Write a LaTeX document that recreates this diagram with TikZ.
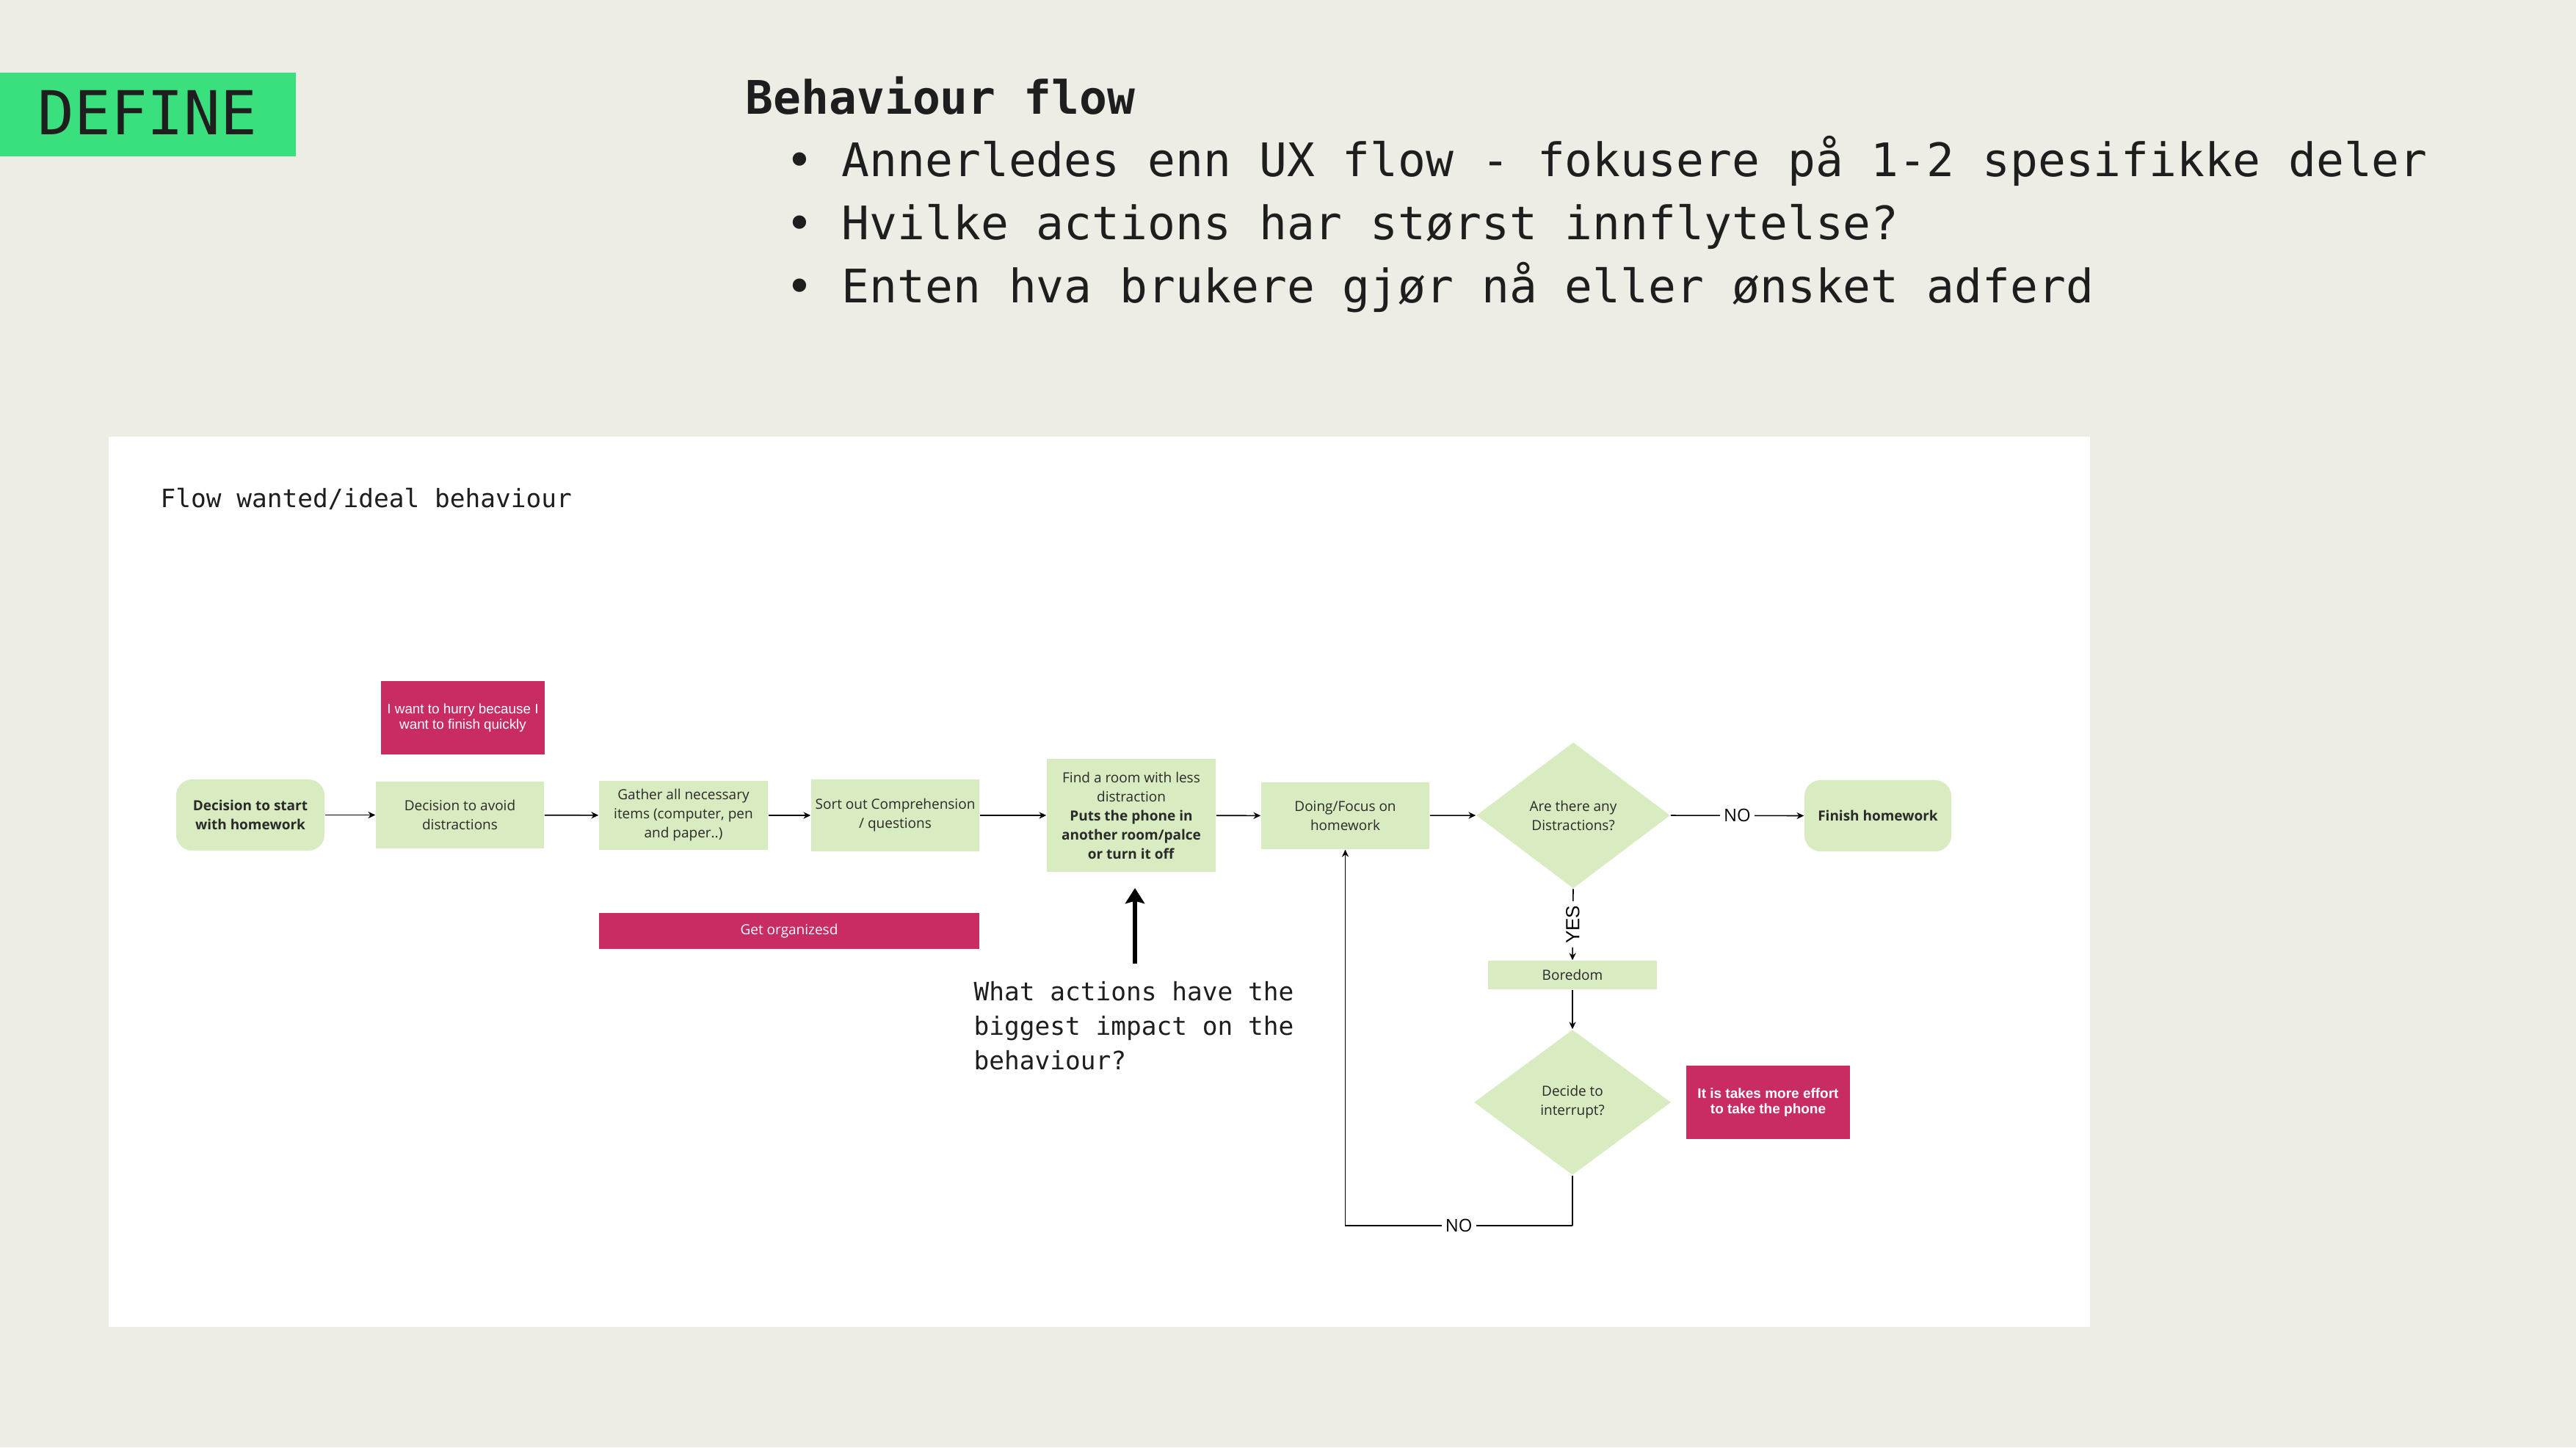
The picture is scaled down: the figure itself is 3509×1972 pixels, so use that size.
\documentclass[tikz,border=0pt]{standalone}
\usepackage{fontspec}
\setmainfont{Open Sans}
\newfontfamily\monof{DejaVu Sans Mono}
\newfontfamily\arialf{Liberation Sans}
\usetikzlibrary{shapes.geometric,arrows.meta}
\definecolor{bgc}{HTML}{EDECE5}
\definecolor{defgreen}{HTML}{3BE07E}
\definecolor{boxgreen}{HTML}{D9EBC0}
\definecolor{pinkc}{HTML}{C92C63}
\definecolor{txtc}{HTML}{2A2A2A}
\definecolor{monoc}{HTML}{1E1E1E}
\newcommand\myfs[2]{\fontsize{#1}{#2}\selectfont}
\tikzset{
  gbox/.style={fill=boxgreen, text=txtc, align=center, inner sep=0pt, font=\myfs{5.4pt}{7.4pt}},
  gboldbox/.style={gbox, font=\myfs{5.4pt}{7.4pt}\bfseries},
  pbox/.style={fill=pinkc, text=white, align=center, inner sep=0pt, font=\myfs{5.4pt}{7.4pt}},
  gdia/.style={diamond, fill=boxgreen, text=txtc, align=center, inner sep=0pt, font=\myfs{5.4pt}{7.4pt}},
  con/.style={draw=black, line width=0.45pt, -{Stealth[length=2.8pt,width=2.6pt]}},
  plain/.style={draw=black, line width=0.45pt},
  lab/.style={fill=white, inner sep=1.5pt, text=black, font=\myfs{6.8pt}{8pt}},
  monotxt/.style={text=monoc, inner sep=0pt},
  bigarrow/.style={draw=black, line width=1.7pt, -{Stealth[length=6pt,width=7.5pt,inset=1pt]}}
}
\begin{document}
\begin{tikzpicture}[x=0.01cm,y=-0.01cm]
% background
\fill[bgc] (0,0) rectangle (3509,1972);
% DEFINE tag
\fill[defgreen] (0,99) rectangle (403,213);
\node[monotxt, anchor=base, font=\monof\myfs{23.5pt}{26pt}] (define) at (201,183) {DEFINE};
% header text
\node[monotxt, anchor=base west, font=\monof\bfseries\myfs{17.9pt}{20pt}] (title) at (1015,155) {Behaviour flow};
\node[monotxt, anchor=base, font=\monof\myfs{17.9pt}{20pt}] (b1) at (1089,240) {•};
\node[monotxt, anchor=base, font=\monof\myfs{17.9pt}{20pt}] (b2) at (1089,326) {•};
\node[monotxt, anchor=base, font=\monof\myfs{17.9pt}{20pt}] (b3) at (1089,412) {•};
\node[monotxt, anchor=base west, font=\monof\myfs{17.9pt}{20pt}] (l1) at (1146,240) {Annerledes enn UX flow - fokusere på 1-2 spesifikke deler};
\node[monotxt, anchor=base west, font=\monof\myfs{17.9pt}{20pt}] (l2) at (1146,326) {Hvilke actions har størst innflytelse?};
\node[monotxt, anchor=base west, font=\monof\myfs{17.9pt}{20pt}] (l3) at (1146,412) {Enten hva brukere gjør nå eller ønsket adferd};
% white panel
\fill[white] (148,595) rectangle (2847,1808);
\node[monotxt, anchor=base west, font=\monof\myfs{9.8pt}{12pt}] (flowtitle) at (218,691) {Flow wanted/ideal behaviour};
% flow nodes
\node[gboldbox, rounded corners=0.22cm, minimum width=2.02cm, minimum height=0.97cm] (start) at (341,1110.5) {Decision to start\\with homework};
\node[gbox, minimum width=2.29cm, minimum height=0.91cm] (avoid) at (626.5,1110.5) {Decision to avoid\\distractions};
\node[pbox, minimum width=2.23cm, minimum height=1.00cm, font=\arialf\myfs{5.35pt}{6pt}] (hurry) at (630.5,978) {I want to hurry because I\\want to finish quickly};
\node[gbox, minimum width=2.30cm, minimum height=0.94cm] (gather) at (931,1111) {Gather all necessary\\items (computer, pen\\and paper..)};
\node[gbox, minimum width=2.29cm, minimum height=0.98cm] (sort) at (1219.5,1111) {Sort out Comprehension\\/ questions};
\node[pbox, minimum width=5.18cm, minimum height=0.49cm] (getorg) at (1075,1268.5) {Get organizesd};
\node[gbox, minimum width=2.30cm, minimum height=1.54cm] (find) at (1541,1111) {Find a room with less\\distraction\\\textbf{Puts the phone in}\\\textbf{another room/palce}\\\textbf{or turn it off}};
\node[gbox, minimum width=2.29cm, minimum height=0.91cm] (doing) at (1832.5,1111.5) {Doing/Focus on\\homework};
\node[gdia, minimum width=2.64cm, minimum height=1.99cm] (dist) at (2143,1111) {Are there any\\Distractions?};
\node[gboldbox, rounded corners=0.22cm, minimum width=2.00cm, minimum height=0.97cm] (finish) at (2558,1111.5) {Finish homework};
\node[gbox, minimum width=2.30cm, minimum height=0.39cm] (boredom) at (2142,1328.5) {Boredom};
\node[gdia, minimum width=2.68cm, minimum height=1.98cm] (intr) at (2142,1502) {Decide to\\interrupt?};
\node[pbox, minimum width=2.23cm, minimum height=1.00cm, font=\arialf\bfseries\myfs{5.4pt}{6.2pt}] (effort) at (2408.5,1502) {It is takes more effort\\to take the phone};
% question text
\node[monotxt, anchor=base west, font=\monof\myfs{9.8pt}{12pt}] (q1) at (1326,1363) {What actions have the};
\node[monotxt, anchor=base west, font=\monof\myfs{9.8pt}{12pt}] (q2) at (1326,1410) {biggest impact on the};
\node[monotxt, anchor=base west, font=\monof\myfs{9.8pt}{12pt}] (q3) at (1326,1457) {behaviour?};
\coordinate (qbase) at (1546,1313);
\coordinate (qtip) at (1546,1210);
\draw[bigarrow] (qbase) -- (qtip);
% connectors
\draw[con] (start) -- (avoid);
\draw[con] (avoid) -- (gather);
\draw[con] (gather) -- (sort);
\draw[con] (sort) -- (find);
\draw[con] (find) -- (doing);
\draw[con] (doing) -- (dist.west);
\draw[con] (dist.east) -- node[lab] (nolab1) {NO} (finish.west);
\draw[con] (dist.south) -- node[lab, rotate=90, font=\arialf\myfs{7.4pt}{8pt}] (yeslab) {YES} (boredom.north);
\draw[con] (boredom.south) -- (intr.north);
\coordinate (c1) at (2142,1670);
\coordinate (c2) at (1832.5,1670);
\draw[plain] (intr.south) -- (c1);
\draw[con] (c1) -- node[lab] (nolab2) {NO} (c2) -- (doing.south);
\end{tikzpicture}
\end{document}
